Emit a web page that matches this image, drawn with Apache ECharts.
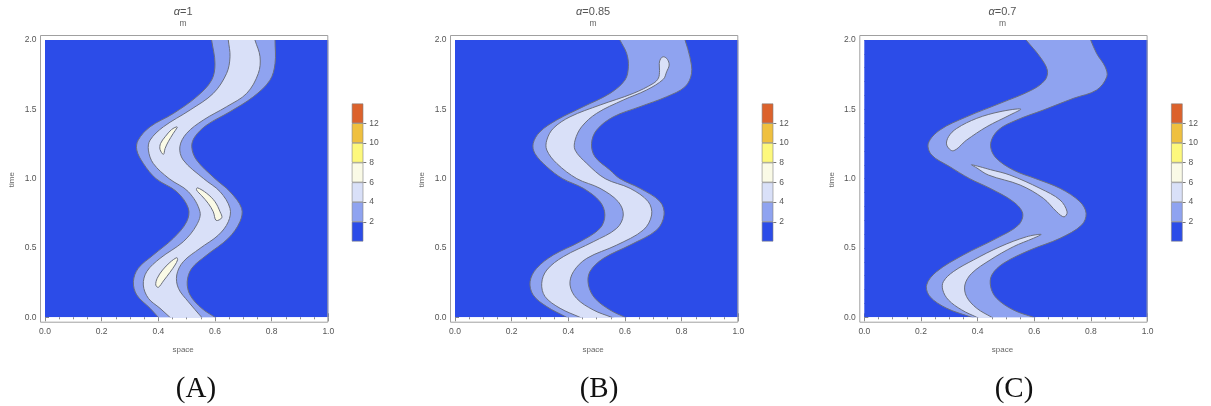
<!DOCTYPE html>
<html><head><meta charset="utf-8">
<script src="https://cdn.jsdelivr.net/npm/echarts@6/dist/echarts.min.js"></script>
<style>html,body{margin:0;padding:0;background:#fff}#c{width:1211px;height:406px}</style>
</head><body><div id="c"></div>
<script>
// ---------- data (space, time) ----------
const alphas = ['1', '0.85', '0.7'];
const tags = ['(A)', '(B)', '(C)'];
const xTickValues = [0, 0.2, 0.4, 0.6, 0.8, 1.0];
const yTickValues = [0, 0.5, 1.0, 1.5, 2.0];
const levels = [0, 2, 4, 6, 8, 10, 12, 14];
const cbLabels = [2, 4, 6, 8, 10, 12];
const levelColors = ['#2c4ce8', '#8fa3f0', '#d9e0f8', '#fafae6', '#fdf87c', '#efc03f', '#dc622c'];

// Panel A (alpha = 1)
const A_outerL = [[0.400,0],[0.371,0.065],[0.324,0.161],[0.312,0.257],[0.329,0.353],[0.382,0.449],[0.453,0.570],[0.500,0.689],[0.506,0.786],[0.465,0.906],[0.392,1.0],[0.347,1.11],[0.324,1.206],[0.329,1.278],[0.371,1.374],[0.453,1.47],[0.535,1.59],[0.588,1.71],[0.600,1.83],[0.588,2.0]];
const A_outerR = [[0.600,0],[0.553,0.065],[0.512,0.161],[0.502,0.257],[0.518,0.353],[0.571,0.449],[0.647,0.570],[0.688,0.689],[0.694,0.786],[0.653,0.906],[0.600,1.0],[0.535,1.134],[0.518,1.23],[0.529,1.302],[0.571,1.387],[0.653,1.483],[0.735,1.59],[0.794,1.71],[0.812,1.83],[0.812,2.0]];
const A_innerL = [[0.441,0],[0.406,0.065],[0.365,0.137],[0.347,0.233],[0.359,0.329],[0.406,0.425],[0.488,0.545],[0.535,0.665],[0.547,0.761],[0.506,0.906],[0.438,1.0],[0.382,1.11],[0.365,1.206],[0.371,1.278],[0.418,1.374],[0.512,1.495],[0.594,1.615],[0.641,1.759],[0.653,1.879],[0.647,2.0]];
const A_innerR = [[0.553,0],[0.506,0.112],[0.471,0.209],[0.465,0.305],[0.488,0.401],[0.547,0.497],[0.612,0.593],[0.647,0.689],[0.653,0.786],[0.618,0.906],[0.560,1.0],[0.488,1.134],[0.476,1.23],[0.500,1.327],[0.559,1.423],[0.641,1.519],[0.712,1.615],[0.753,1.759],[0.759,1.879],[0.741,2.0]];
const A_blobTop = [[0.465,1.374],[0.447,1.355],[0.424,1.302],[0.408,1.254],[0.406,1.211],[0.418,1.175],[0.424,1.218],[0.435,1.266],[0.453,1.327],[0.467,1.370]];
const A_blobMid = [[0.538,0.934],[0.571,0.894],[0.600,0.834],[0.618,0.761],[0.624,0.718],[0.604,0.699],[0.594,0.761],[0.576,0.822],[0.553,0.877],[0.535,0.918]];
const A_blobLow = [[0.465,0.430],[0.441,0.396],[0.415,0.341],[0.396,0.281],[0.391,0.233],[0.400,0.216],[0.418,0.262],[0.441,0.324],[0.459,0.377],[0.468,0.415]];

// Panel B (alpha = 0.85)
const B_outerL = [[0.394,0],[0.324,0.077],[0.276,0.161],[0.265,0.257],[0.288,0.353],[0.347,0.449],[0.441,0.545],[0.512,0.642],[0.529,0.738],[0.512,0.834],[0.453,0.930],[0.380,1.0],[0.324,1.086],[0.282,1.182],[0.276,1.254],[0.300,1.338],[0.359,1.423],[0.453,1.519],[0.547,1.615],[0.600,1.711],[0.612,1.807],[0.606,1.903],[0.582,2.0]];
const B_outerR = [[0.600,0],[0.547,0.053],[0.494,0.137],[0.471,0.233],[0.476,0.329],[0.524,0.425],[0.618,0.521],[0.712,0.630],[0.738,0.738],[0.724,0.834],[0.653,0.930],[0.582,1.0],[0.547,1.062],[0.494,1.158],[0.482,1.254],[0.500,1.351],[0.559,1.446],[0.653,1.519],[0.747,1.591],[0.812,1.663],[0.835,1.759],[0.829,1.879],[0.812,2.0]];
const B_light = [[0.441,0],[0.371,0.065],[0.318,0.149],[0.306,0.245],[0.324,0.341],[0.382,0.437],[0.488,0.545],[0.571,0.642],[0.594,0.738],[0.576,0.834],[0.512,0.930],[0.430,1.0],[0.359,1.110],[0.324,1.206],[0.324,1.278],[0.347,1.363],[0.406,1.446],[0.512,1.531],[0.629,1.615],[0.700,1.687],[0.718,1.725],[0.722,1.780],[0.721,1.830],[0.726,1.866],[0.737,1.879],[0.750,1.860],[0.756,1.819],[0.747,1.771],[0.735,1.716],[0.676,1.639],[0.594,1.567],[0.500,1.471],[0.447,1.374],[0.424,1.278],[0.424,1.206],[0.465,1.110],[0.530,1.0],[0.618,0.930],[0.682,0.834],[0.694,0.738],[0.665,0.630],[0.571,0.521],[0.465,0.425],[0.418,0.329],[0.406,0.233],[0.429,0.137],[0.488,0.053],[0.553,0]];

// Panel C (alpha = 0.7)
const C_outerL = [[0.379,0],[0.291,0.065],[0.232,0.149],[0.220,0.233],[0.255,0.329],[0.349,0.449],[0.467,0.570],[0.544,0.665],[0.559,0.750],[0.526,0.834],[0.444,0.930],[0.372,1.0],[0.302,1.086],[0.238,1.170],[0.226,1.254],[0.267,1.351],[0.361,1.446],[0.479,1.543],[0.591,1.639],[0.638,1.711],[0.646,1.783],[0.620,1.879],[0.571,2.0]];
const C_outerR = [[0.597,0],[0.526,0.053],[0.467,0.137],[0.446,0.221],[0.450,0.305],[0.491,0.389],[0.585,0.485],[0.691,0.570],[0.767,0.665],[0.783,0.750],[0.761,0.834],[0.691,0.930],[0.605,1.0],[0.526,1.062],[0.461,1.158],[0.446,1.254],[0.473,1.351],[0.538,1.423],[0.632,1.495],[0.738,1.579],[0.820,1.639],[0.856,1.735],[0.850,1.807],[0.820,1.903],[0.799,2.0]];
const C_blobLow = [[0.397,0],[0.344,0.053],[0.297,0.125],[0.277,0.197],[0.279,0.257],[0.314,0.329],[0.385,0.413],[0.479,0.509],[0.573,0.581],[0.624,0.598],[0.597,0.570],[0.526,0.509],[0.444,0.413],[0.379,0.317],[0.355,0.233],[0.361,0.149],[0.397,0.065],[0.450,0]];
const C_blobMid = [[0.379,1.100],[0.445,1.065],[0.514,1.026],[0.620,0.930],[0.691,0.846],[0.716,0.760],[0.705,0.724],[0.679,0.761],[0.632,0.858],[0.550,0.954],[0.438,1.026],[0.395,1.080]];
const C_blobUp = [[0.552,1.502],[0.479,1.483],[0.397,1.435],[0.326,1.362],[0.297,1.302],[0.291,1.242],[0.314,1.201],[0.361,1.278],[0.432,1.374],[0.514,1.459]];

// ---------- composition ----------
const panels = [
  [ {band:true, level:1, left:A_outerL, right:A_outerR},
    {band:true, level:2, left:A_innerL, right:A_innerR},
    {level:3, pts:A_blobTop}, {level:3, pts:A_blobMid}, {level:3, pts:A_blobLow} ],
  [ {band:true, level:1, left:B_outerL, right:B_outerR},
    {level:2, pts:B_light, open:true} ],
  [ {band:true, level:1, left:C_outerL, right:C_outerR},
    {level:2, pts:C_blobLow, open:true}, {level:2, pts:C_blobMid}, {level:2, pts:C_blobUp} ]
];

// ---------- layout ----------
const plotLeft = [45, 455, 864.3];
const plotTop = 40, plotW = 283.3, plotH = 277.3;
const FONT = 'Liberation Sans, Arial, sans-serif';
const LINE = '#6a6f7e';
const SM = 0.35;

function extend(edge) {
  const d = 0.06;
  const a = edge[0], b = edge[1];
  const n = edge.length, y = edge[n - 1], z = edge[n - 2];
  const k0 = d / Math.max(Math.abs(a[1] - b[1]), 1e-6);
  const k1 = d / Math.max(Math.abs(y[1] - z[1]), 1e-6);
  const first = [a[0] + (a[0] - b[0]) * k0, a[1] + (a[1] - b[1]) * k0];
  const last = [y[0] + (y[0] - z[0]) * k1, y[1] + (y[1] - z[1]) * k1];
  return [first].concat(edge, [last]);
}

function makeRender(regions) {
  return function (params, api) {
    const P = pts => pts.map(q => api.coord(q));
    const ch = [];
    const o = api.coord([0, 0]), e = api.coord([1, 2]);
    ch.push({type:'rect', shape:{x:o[0], y:e[1], width:e[0]-o[0], height:o[1]-e[1]}, style:{fill:levelColors[0]}});
    regions.forEach(r => {
      const fill = levelColors[r.level];
      if (r.band) {
        const L = extend(r.left), R = extend(r.right);
        ch.push({type:'polygon', shape:{points:P(L.concat(R.slice().reverse())), smooth:SM}, style:{fill:fill, stroke:null}});
        ch.push({type:'polyline', shape:{points:P(L), smooth:SM}, style:{fill:null, stroke:LINE, lineWidth:1}});
        ch.push({type:'polyline', shape:{points:P(R), smooth:SM}, style:{fill:null, stroke:LINE, lineWidth:1}});
      } else if (r.open) {
        const pts = extend(r.pts);
        ch.push({type:'polygon', shape:{points:P(pts), smooth:SM}, style:{fill:fill, stroke:null}});
        ch.push({type:'polyline', shape:{points:P(pts), smooth:SM}, style:{fill:null, stroke:LINE, lineWidth:1}});
      } else {
        ch.push({type:'polygon', shape:{points:P(r.pts), smooth:SM}, style:{fill:fill, stroke:LINE, lineWidth:1}});
      }
    });
    return {type:'group', children:ch};
  };
}

const grid = [], xAxis = [], yAxis = [], series = [], graphic = [];
const tickStyle = {color:'#8a8a8a', width:1};
const labelStyle = {fontSize:8.5, color:'#555', fontFamily:FONT};

panels.forEach((regions, p) => {
  const L = plotLeft[p];
  grid.push({left:L, top:plotTop, width:plotW, height:plotH});
  grid.push({left:L + plotW + 23.5, top:103.5, width:11.5, height:138});
  const g = 2 * p, gc = 2 * p + 1;
  // plot axes
  xAxis.push({gridIndex:g, type:'value', min:0, max:1, interval:0.2, position:'bottom', offset:5,
    axisLine:{show:false}, splitLine:{show:false},
    axisTick:{show:true, inside:true, length:4, lineStyle:tickStyle},
    minorTick:{show:true, splitNumber:4, length:2, lineStyle:tickStyle},
    axisLabel:Object.assign({margin:5, showMinLabel:true, showMaxLabel:true, formatter:v => v.toFixed(1)}, labelStyle)});
  xAxis.push({gridIndex:g, type:'value', min:0, max:1, interval:0.2, position:'top', offset:5,
    axisLine:{show:false}, splitLine:{show:false},
    axisTick:{show:true, inside:true, length:4, lineStyle:tickStyle},
    minorTick:{show:true, splitNumber:4, length:2, lineStyle:tickStyle},
    axisLabel:{show:false}});
  xAxis.push({gridIndex:gc, type:'category', data:['m'], show:false});
  yAxis.push({gridIndex:g, type:'value', min:0, max:2, interval:0.5, position:'left', offset:5,
    axisLine:{show:false}, splitLine:{show:false},
    axisTick:{show:true, inside:true, length:4, lineStyle:tickStyle},
    minorTick:{show:true, splitNumber:5, length:2, lineStyle:tickStyle},
    axisLabel:Object.assign({margin:3.5, showMinLabel:true, showMaxLabel:true, formatter:v => v.toFixed(1)}, labelStyle)});
  yAxis.push({gridIndex:g, type:'value', min:0, max:2, interval:0.5, position:'right', offset:0,
    axisLine:{show:false}, splitLine:{show:false}, axisTick:{show:false}, axisLabel:{show:false}});
  yAxis.push({gridIndex:gc, type:'value', min:levels[0], max:levels[levels.length-1], interval:2, position:'right',
    axisLine:{show:false}, splitLine:{show:false},
    axisTick:{show:true, length:3, lineStyle:{color:'#777'}, customValues:cbLabels},
    axisLabel:Object.assign({margin:6, customValues:cbLabels, formatter:v => (cbLabels.indexOf(v) >= 0 ? String(v) : '')}, labelStyle)});
  // contour drawing
  series.push({type:'custom', xAxisIndex:3*p, yAxisIndex:3*p, clip:true, silent:true,
    renderItem:makeRender(regions), data:[[0, 0]], z:2});
  // colour bar
  for (let k = 0; k < levels.length - 1; k++) {
    series.push({type:'bar', xAxisIndex:3*p+2, yAxisIndex:3*p+2, stack:'cb' + p, barWidth:'100%', silent:true,
      data:[levels[k+1] - levels[k]],
      itemStyle:{color:levelColors[k], borderColor:'#7f7f7f', borderWidth:0.6}});
  }
  // frame
  graphic.push({type:'rect', z:100, silent:true,
    shape:{x:L - 5 + 0.5, y:plotTop - 5 + 0.5, width:plotW + 5 - 1, height:plotH + 10.4 - 1},
    style:{fill:null, stroke:'#a0a0a0', lineWidth:1}});
  const cx = L + plotW / 2 - 3.5;
  graphic.push({type:'text', silent:true, x:cx, y:12, style:{text:'{i|α}=' + alphas[p], align:'center', verticalAlign:'middle',
    fontSize:11, fill:'#555', fontFamily:FONT, rich:{i:{fontStyle:'italic', fontSize:11, fill:'#555', fontFamily:FONT}}}});
  graphic.push({type:'text', silent:true, x:cx, y:23.5, style:{text:'m', align:'center', verticalAlign:'middle', fontSize:8.5, fill:'#666', fontFamily:FONT}});
  graphic.push({type:'text', silent:true, x:cx, y:350, style:{text:'space', align:'center', verticalAlign:'middle', fontSize:8, fill:'#666', fontFamily:FONT}});
  graphic.push({type:'text', silent:true, x:L - 33, y:plotTop + plotH / 2 + 1, rotation:Math.PI / 2,
    style:{text:'time', align:'center', verticalAlign:'middle', fontSize:8, fill:'#666', fontFamily:FONT}});
  graphic.push({type:'text', silent:true, x:[196, 599, 1014][p], y:389,
    style:{text:tags[p], align:'center', verticalAlign:'middle', fontSize:29, fill:'#111', fontFamily:'Liberation Serif, Times New Roman, serif'}});
});

const chart = echarts.init(document.getElementById('c'), null, {renderer:'canvas'});
chart.setOption({animation:false, backgroundColor:'#fff', grid, xAxis, yAxis, series, graphic});
</script></body></html>
